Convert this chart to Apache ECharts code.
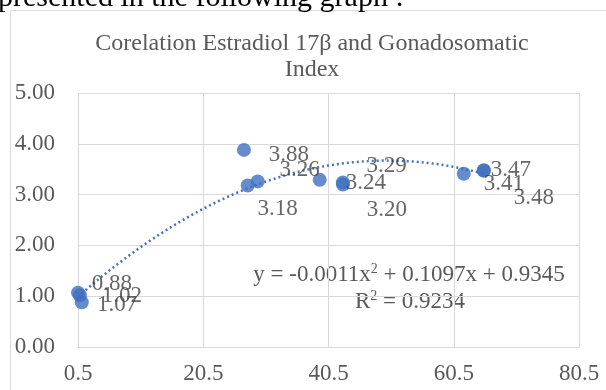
<!DOCTYPE html>
<html>
<head>
<meta charset="utf-8">
<script src="https://cdn.jsdelivr.net/npm/echarts@6/dist/echarts.min.js"></script>
<style>
html,body{margin:0;padding:0;background:#fff;}
#c{width:606px;height:390px;}
</style>
</head>
<body>
<div id="c"></div>
<script>
// ---- data ----
const titleText = 'Corelation Estradiol 17β and Gonadosomatic\nIndex';
const xValues = [0.5, 0.8, 1.1, 27.0, 27.6, 29.2, 39.1, 42.8, 42.8, 62.1, 65.3, 65.3];
const yValues = [1.07, 1.02, 0.88, 3.88, 3.18, 3.26, 3.29, 3.24, 3.20, 3.41, 3.47, 3.48];
const xTicks = [0.5, 20.5, 40.5, 60.5, 80.5];
const yTicks = [0, 1, 2, 3, 4, 5];
const trendCoef = [-0.0011, 0.1097, 0.9345]; // a x^2 + b x + c
const rSquared = 0.9234;

// label offsets (px) for each data label, separate from data
const labelOffsets = [[39,12],[42,1],[30,-18],[45,5],[30,23],[42,-11],[67,-14],[23,1],[44,26],[40,10],[27,-1],[50,28]];

const serif = '"Liberation Serif", "DejaVu Serif", serif';

const points = xValues.map((x, i) => ({
  value: [x, yValues[i]],
  label: { offset: labelOffsets[i] }
}));

// trendline from the fitted coefficients, over the data range
const xMinData = Math.min(...xValues), xMaxData = Math.max(...xValues);
const trend = [];
for (let k = 0; k <= 80; k++) {
  const x = xMinData + (xMaxData - xMinData) * k / 80;
  trend.push([x, trendCoef[0]*x*x + trendCoef[1]*x + trendCoef[2]]);
}

const chart = echarts.init(document.getElementById('c'), null, {renderer: 'canvas'});
chart.setOption({
  backgroundColor: '#fff',
  animation: false,
  grid: { left: 78, right: 27, top: 93, bottom: 43, containLabel: false },
  xAxis: {
    type: 'value', min: xTicks[0], max: xTicks[xTicks.length-1], interval: xTicks[1]-xTicks[0],
    axisLine: { show: true, lineStyle: { color: '#d9d9d9', width: 1 } },
    axisTick: { show: false },
    splitLine: { show: true, lineStyle: { color: '#d9d9d9', width: 1 } },
    axisLabel: { color: '#595959', fontFamily: serif, fontSize: 23, margin: 15,
      formatter: v => String(v) }
  },
  yAxis: {
    type: 'value', min: yTicks[0], max: yTicks[yTicks.length-1], interval: 1,
    axisLine: { show: false },
    axisTick: { show: false },
    splitLine: { show: true, lineStyle: { color: '#d9d9d9', width: 1 } },
    axisLabel: { color: '#595959', fontFamily: serif, fontSize: 23, margin: 23,
      formatter: v => v.toFixed(2) }
  },
  series: [
    {
      type: 'line', data: trend, showSymbol: false, symbol: 'none', smooth: false,
      lineStyle: { color: '#4472C4', width: 2.5, type: [2, 3] }, z: 2, silent: true
    },
    {
      type: 'scatter', data: points, symbol: 'circle', symbolSize: 14,
      itemStyle: { color: '#3f6fbf' }, z: 3,
      label: { show: true, position: 'inside', color: '#404040', fontFamily: serif, fontSize: 23,
        align: 'center', verticalAlign: 'middle',
        formatter: p => p.value[1].toFixed(2) }
    }
  ],
  graphic: [
    { type: 'rect', shape: { x: 10.5, y: 10.5, width: 620, height: 420 },
      style: { fill: null, stroke: '#d9d9d9', lineWidth: 1 }, z: -1 },
    { type: 'text', x: -2, y: -17, style: { text: 'presented in the following graph :', fill: '#000',
      font: '30px ' + serif, verticalAlign: 'top' } },
    { type: 'text', x: 312, y: 57, style: { text: titleText, fill: '#595959', font: '24px ' + serif,
      align: 'center', verticalAlign: 'middle', lineHeight: 26 } },
    { type: 'text', x: 409, y: 275, style: {
      text: 'y = ' + trendCoef[0] + 'x{sup|2} + ' + trendCoef[1] + 'x + ' + trendCoef[2],
      fill: '#595959', font: '23px ' + serif, align: 'center', verticalAlign: 'middle',
      rich: { sup: { fontSize: 14, fontFamily: serif, fill: '#595959', padding: [0,0,11,0] } } } },
    { type: 'text', x: 410, y: 302, style: {
      text: 'R{sup|2} = ' + rSquared, fill: '#595959', font: '23px ' + serif, align: 'center', verticalAlign: 'middle',
      rich: { sup: { fontSize: 14, fontFamily: serif, fill: '#595959', padding: [0,0,11,0] } } } }
  ]
});
</script>
</body>
</html>
